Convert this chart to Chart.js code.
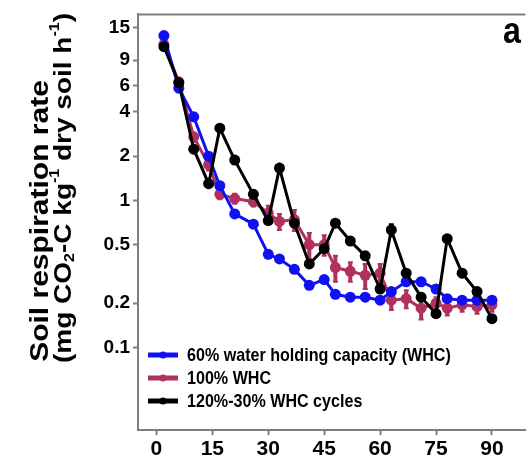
<!DOCTYPE html>
<html>
<head>
<meta charset="utf-8">
<script src="https://cdn.jsdelivr.net/npm/chart.js@4.4.1/dist/chart.umd.min.js"></script>
<style>
  html, body { margin: 0; padding: 0; background: #fff; }
  #wrap { width: 531px; height: 465px; }
</style>
</head>
<body>
<div id="wrap"><canvas id="grafico"></canvas></div>
<script>
// incubation day of each measurement
const days = [2, 6, 10, 14, 17, 21, 26, 30, 33, 37, 41, 45, 48, 52, 56, 60, 63, 67, 71, 75, 78, 82, 86, 90];

// soil respiration rate (mg CO2-C kg-1 dry soil h-1)
const whc60 = [13.2, 5.8, 3.7, 2.0, 1.26, 0.81, 0.69, 0.43, 0.40, 0.34, 0.265, 0.29, 0.23, 0.22, 0.22, 0.21, 0.24, 0.28, 0.28, 0.25, 0.215, 0.21, 0.21, 0.21];
const whc100 = [11.5, 6.4, 2.7, 1.75, 1.1, 1.03, 0.98, 0.82, 0.72, 0.74, 0.5, 0.5, 0.35, 0.33, 0.31, 0.32, 0.21, 0.215, 0.185, 0.2, 0.185, 0.195, 0.19, 0.195];
const whcCycles = [11.1, 6.3, 2.23, 1.3, 3.1, 1.88, 1.1, 0.73, 1.66, 0.70, 0.37, 0.47, 0.70, 0.53, 0.42, 0.25, 0.63, 0.32, 0.22, 0.17, 0.55, 0.32, 0.24, 0.157];

// error bars (half range)
const whc100Err = [0.3, 0.3, 0.2, 0.15, 0.08, 0.08, 0.07, 0.1, 0.09, 0.12, 0.1, 0.08, 0.07, 0.05, 0.06, 0.05, 0.03, 0.03, 0.03, 0.02, 0.02, 0.02, 0.02, 0.02];
const whcCyclesErr = [0, 0, 0, 0, 0, 0, 0, 0, 0, 0, 0, 0, 0, 0, 0, 0, 0.06, 0, 0, 0, 0.03, 0, 0, 0];

const seriesLabels = ['60% water holding capacity (WHC)', '100% WHC', '120%-30% WHC cycles'];
const xTicks = [0, 15, 30, 45, 60, 75, 90];
const yTicks = [0.1, 0.2, 0.5, 1, 2, 4, 6, 9, 15];

const AXIS_GRAY = '#7f7f7f';
const SQUISH = 0.87;

function pts(vals) {
  return days.map((d, i) => ({ x: d, y: vals[i] }));
}

function drawSquished(ctx, text, x, y, rotate) {
  ctx.save();
  ctx.translate(x, y);
  ctx.scale(SQUISH, 1);
  if (rotate) ctx.rotate(-Math.PI / 2);
  ctx.fillText(text, 0, 0);
  ctx.restore();
}

// error bars drawn under each dataset's markers
const errorBars = {
  id: 'errorBars',
  beforeDatasetDraw(chart, args) {
    const ds = chart.data.datasets[args.index];
    if (!ds.errors) return;
    const { ctx, scales } = chart;
    ctx.save();
    ctx.strokeStyle = ds.borderColor;
    ctx.lineWidth = 4;
    ds.data.forEach((p, i) => {
      const e = ds.errors[i];
      if (!e) return;
      const x = scales.x.getPixelForValue(p.x);
      const y1 = scales.y.getPixelForValue(p.y + e);
      const y2 = scales.y.getPixelForValue(Math.max(p.y - e, 0.001));
      ctx.beginPath();
      ctx.moveTo(x, y1); ctx.lineTo(x, y2);
      ctx.stroke();
      ctx.lineWidth = 2;
      ctx.beginPath();
      ctx.moveTo(x - 2.5, y1); ctx.lineTo(x + 2.5, y1);
      ctx.moveTo(x - 2.5, y2); ctx.lineTo(x + 2.5, y2);
      ctx.stroke();
      ctx.lineWidth = 4;
    });
    ctx.restore();
  }
};

// frame line, axis title, legend and panel letter
const decor = {
  id: 'decor',
  afterDraw(chart) {
    const { ctx, chartArea } = chart;
    ctx.save();
    ctx.strokeStyle = AXIS_GRAY;
    ctx.lineWidth = 2;
    ctx.beginPath();
    ctx.moveTo(chartArea.left - 1, chartArea.top);
    ctx.lineTo(chartArea.right, chartArea.top);
    ctx.stroke();

    ctx.fillStyle = '#000';
    ctx.textBaseline = 'middle';
    ctx.textAlign = 'center';
    ctx.font = 'bold 30px "Liberation Sans", Arial, sans-serif';
    drawSquished(ctx, 'Soil respiration rate', 41, 221, true);

    // second title line with sub/superscripts
    const big = 'bold 28px "Liberation Sans", Arial, sans-serif';
    const small = 'bold 16px "Liberation Sans", Arial, sans-serif';
    const parts = [
      ['(mg CO', big, 0], ['2', small, 7], ['-C kg', big, 0], ['-1', small, -10],
      [' dry soil h', big, 0], ['-1', small, -10], [')', big, 0]
    ];
    let total = 0;
    parts.forEach(p => { ctx.font = p[1]; total += ctx.measureText(p[0]).width; });
    ctx.save();
    ctx.translate(64, 188);
    ctx.scale(SQUISH, 1);
    ctx.rotate(-Math.PI / 2);
    ctx.textAlign = 'left';
    let cx = -total / 2;
    parts.forEach(p => {
      ctx.font = p[1];
      ctx.fillText(p[0], cx, p[2]);
      cx += ctx.measureText(p[0]).width;
    });
    ctx.restore();

    // legend inside plot
    ctx.textAlign = 'left';
    ctx.font = 'bold 18.5px "Liberation Sans", Arial, sans-serif';
    const lx = chartArea.left + 10;
    seriesLabels.forEach((lab, i) => {
      const ds = chart.data.datasets[i];
      const y = 355 + i * 23;
      ctx.strokeStyle = ds.borderColor;
      ctx.lineWidth = 5;
      ctx.beginPath();
      ctx.moveTo(lx, y); ctx.lineTo(lx + 30, y);
      ctx.stroke();
      ctx.fillStyle = ds.borderColor;
      ctx.beginPath();
      ctx.arc(lx + 15, y, 3.5, 0, Math.PI * 2);
      ctx.fill();
      ctx.fillStyle = '#000';
      drawSquished(ctx, lab, lx + 39, y + 1, false);
    });

    ctx.textBaseline = 'alphabetic';
    ctx.textAlign = 'center';
    ctx.font = 'bold 37px "Liberation Sans", Arial, sans-serif';
    drawSquished(ctx, 'a', 512, 43, false);
    ctx.restore();
  }
};

const ctx = document.getElementById('grafico').getContext('2d');
new Chart(ctx, {
  type: 'line',
  data: {
    datasets: [
      {
        label: seriesLabels[0],
        data: pts(whc60),
        borderColor: '#1010f5',
        backgroundColor: '#1010f5',
        order: 2
      },
      {
        label: seriesLabels[1],
        data: pts(whc100),
        errors: whc100Err,
        borderColor: '#b0305f',
        backgroundColor: '#b0305f',
        order: 3
      },
      {
        label: seriesLabels[2],
        data: pts(whcCycles),
        errors: whcCyclesErr,
        borderColor: '#000000',
        backgroundColor: '#000000',
        order: 1
      }
    ]
  },
  options: {
    responsive: true,
    maintainAspectRatio: false,
    animation: false,
    layout: { padding: { top: 10, right: 0, left: 0, bottom: 0 } },
    elements: {
      line: { borderWidth: 3, tension: 0 },
      point: { radius: 5.5, borderWidth: 0, hoverRadius: 5.5 }
    },
    scales: {
      x: {
        type: 'linear',
        min: -4.95,
        max: 99,
        afterBuildTicks: s => { s.ticks = xTicks.map(v => ({ value: v })); },
        afterFit: s => { s.height = 35; },
        grid: { drawOnChartArea: false, tickLength: 5, color: AXIS_GRAY, tickWidth: 2 },
        border: { color: AXIS_GRAY, width: 2 },
        ticks: {
          color: '#000',
          padding: 2,
          maxRotation: 0,
          font: { family: '"Liberation Sans", Arial, sans-serif', size: 21, weight: 'bold' }
        }
      },
      y: {
        type: 'logarithmic',
        min: 0.0275,
        max: 18.4,
        afterBuildTicks: s => { s.ticks = yTicks.map(v => ({ value: v })); },
        afterFit: s => { s.width = 138; },
        grid: { drawOnChartArea: false, tickLength: 5, color: AXIS_GRAY, tickWidth: 2 },
        border: { color: AXIS_GRAY, width: 2 },
        ticks: {
          color: '#000',
          padding: 3,
          callback: v => String(v),
          font: { family: '"Liberation Sans", Arial, sans-serif', size: 19, weight: 'bold' }
        }
      }
    },
    plugins: {
      legend: { display: false },
      tooltip: { enabled: false }
    }
  },
  plugins: [errorBars, decor]
});
</script>
</body>
</html>
